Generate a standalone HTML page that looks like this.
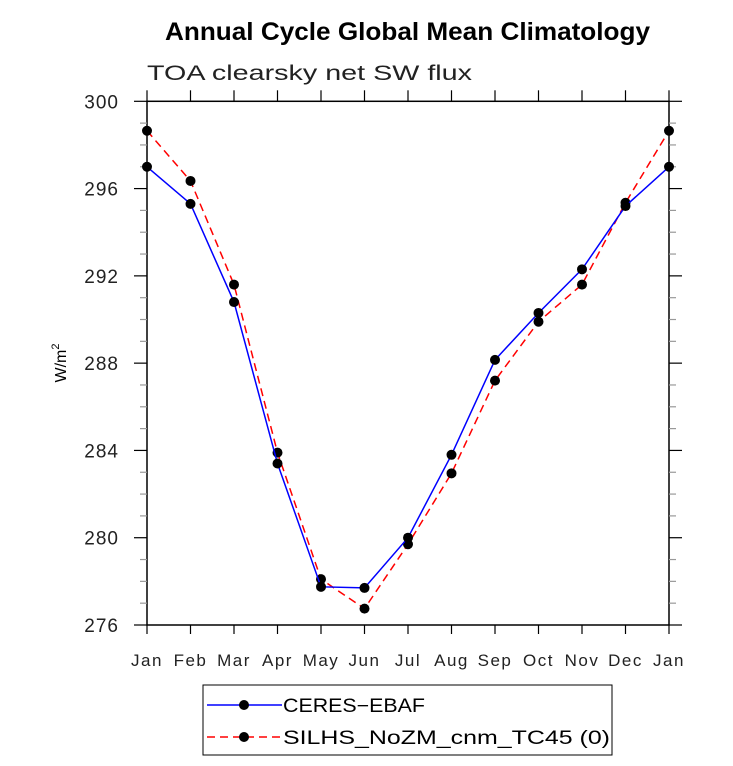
<!DOCTYPE html>
<html><head><meta charset="utf-8"><style>
body{margin:0;background:#fff;}
svg text{font-family:"Liberation Sans",sans-serif;}
</style></head><body>
<svg id="c" width="733" height="761" xmlns="http://www.w3.org/2000/svg">
<text x="165" y="40" font-size="25" font-weight="bold" textLength="485" lengthAdjust="spacingAndGlyphs">Annual Cycle Global Mean Climatology</text>
<text x="147" y="80" font-size="21" fill="#222" textLength="325" lengthAdjust="spacingAndGlyphs">TOA clearsky net SW flux</text>
<text transform="translate(66,363) rotate(-90)" text-anchor="middle" font-size="16">W/m<tspan dy="-7" font-size="11">2</tspan></text>
<g id="axes"></g>
<g id="series"></g>
<g>
<rect x="203" y="685" width="409" height="70" fill="#fff" stroke="#000" stroke-width="1"/>
<line x1="207" y1="705" x2="282" y2="705" stroke="#0000ff" stroke-width="1.5"/>
<circle cx="244" cy="705" r="5" fill="#000"/>
<text x="283" y="712" font-size="19" textLength="142" lengthAdjust="spacingAndGlyphs">CERES−EBAF</text>
<line x1="207" y1="737" x2="282" y2="737" stroke="#ff0000" stroke-width="1.5" stroke-dasharray="8,5"/>
<circle cx="244" cy="737" r="5" fill="#000"/>
<text x="283" y="744" font-size="19" textLength="327" lengthAdjust="spacingAndGlyphs">SILHS_NoZM_cnm_TC45 (0)</text>
</g>
</svg>
<script>
const months=["Jan","Feb","Mar","Apr","May","Jun","Jul","Aug","Sep","Oct","Nov","Dec","Jan"];
const ceres=[297.0,295.3,290.8,283.4,277.75,277.7,280.0,283.8,288.15,290.3,292.3,295.2,297.0];
const silhs=[298.65,296.35,291.6,283.9,278.1,276.75,279.7,282.95,287.2,289.9,291.6,295.35,298.65];
const yTicks=[276,280,284,288,292,296,300];
const NS="http://www.w3.org/2000/svg";
const X0=147,X1=669,Y0=101.3,Y1=625;
const xs=i=>X0+(X1-X0)*i/12;
const ys=v=>Y1-(v-276)/24*(Y1-Y0);
function mk(t,a,p){const e=document.createElementNS(NS,t);for(const k in a)e.setAttribute(k,a[k]);p.appendChild(e);return e;}
const ax=document.getElementById('axes');
const frame=mk('rect',{x:X0,y:Y0,width:X1-X0,height:Y1-Y0,fill:'none',stroke:'#000','stroke-width':1.5},ax);


for(let v=276;v<=300;v+=1){
  const y=ys(v),maj=v%4===0;
  const L=maj?13:7,col=maj?'#000':'#999';
  mk('line',{x1:X0-L,y1:y,x2:X0,y2:y,stroke:col,'stroke-width':1.2},ax);
  mk('line',{x1:X1,y1:y,x2:X1+L,y2:y,stroke:col,'stroke-width':1.2},ax);
}
yTicks.forEach(v=>{
  const t=mk('text',{x:X0-28,y:ys(v)+7,'text-anchor':'end','font-size':19,fill:'#222','letter-spacing':1},ax);
  t.textContent=v;
  
  
});
months.forEach((m,i)=>{
  const x=xs(i);
  mk('line',{x1:x,y1:Y1,x2:x,y2:Y1+9,stroke:'#000','stroke-width':1.2},ax);
  mk('line',{x1:x,y1:Y0-11,x2:x,y2:Y0,stroke:'#000','stroke-width':1.2},ax);
  const t=mk('text',{x:x,y:Y1+41,'text-anchor':'middle','font-size':17,fill:'#222','letter-spacing':1.5},ax);
  t.textContent=m;
  
  
});
const sg=document.getElementById('series');
function series(vals,col,dash,name){
  const g=mk('g',{},sg);
  
  
  const a={points:vals.map((v,i)=>xs(i)+','+ys(v)).join(' '),fill:'none',stroke:col,'stroke-width':1.5};
  if(dash)a['stroke-dasharray']=dash;
  mk('polyline',a,g);
  vals.forEach((v,i)=>{
    const c=mk('circle',{cx:xs(i),cy:ys(v),r:5,fill:'#000'},g);
    
    
  });
}
series(silhs,'#ff0000','8,5','silhs-series');
series(ceres,'#0000ff',null,'ceres-series');
</script>
</body></html>
